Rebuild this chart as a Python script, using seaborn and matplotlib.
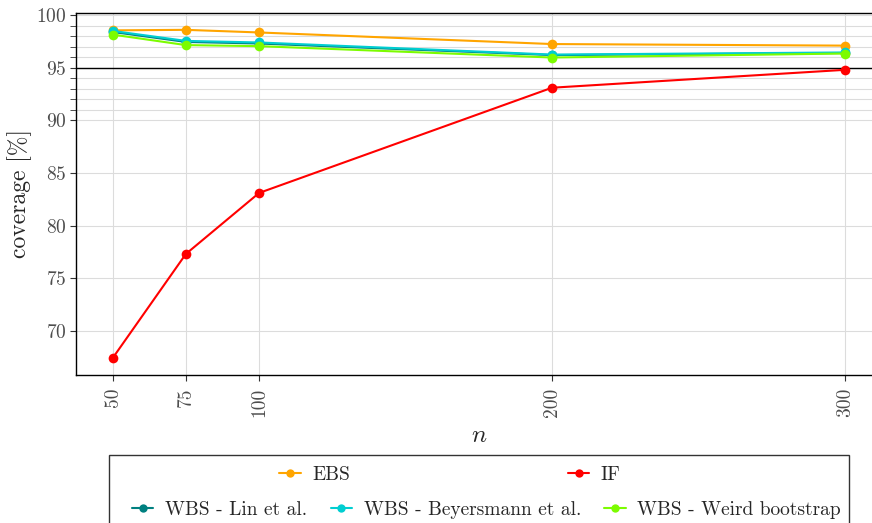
import matplotlib
matplotlib.use("Agg")
import matplotlib.pyplot as plt
import matplotlib.patches as patches
from matplotlib.lines import Line2D
import seaborn as sns
import pandas as pd

# sample sizes and coverage (%) per method
n_values = [50, 75, 100, 200, 300]
ebs = [98.55, 98.6, 98.35, 97.25, 97.1]
inf_fn = [67.4, 77.3, 83.1, 93.1, 94.8]
wbs_lin = [98.4, 97.45, 97.3, 96.2, 96.4]
wbs_beyersmann = [98.5, 97.55, 97.4, 96.25, 96.45]
wbs_weird = [98.15, 97.15, 97.05, 95.97, 96.35]

methods = ["EBS", "IF", "WBS - Lin et al.", "WBS - Beyersmann et al.", "WBS - Weird bootstrap"]
colors = ["#FFA500", "#FF0000", "#008080", "#00CED1", "#7CFC00"]
y_major = [70, 75, 80, 85, 90, 95, 100]
y_minor = [91, 92, 93, 94, 96, 97, 98, 99]


def make_frame():
    rows = []
    for name, vals in zip(methods, [ebs, inf_fn, wbs_lin, wbs_beyersmann, wbs_weird]):
        for n, v in zip(n_values, vals):
            rows.append({"n": n, "coverage": v, "method": name})
    return pd.DataFrame(rows)


def main():
    sns.set_style("white")
    plt.rcParams["font.family"] = "serif"
    plt.rcParams["font.serif"] = ["cmr10", "DejaVu Serif"]
    plt.rcParams["mathtext.fontset"] = "cm"
    plt.rcParams["axes.formatter.use_mathtext"] = True

    df = make_frame()
    fig = plt.figure(figsize=(8.72, 5.23), dpi=100)
    ax = fig.add_axes([76 / 872, 1 - 375 / 523, (881.6 - 76) / 872, (375 - 13) / 523])

    sns.lineplot(data=df, x="n", y="coverage", hue="method", hue_order=methods,
                 palette=colors, marker="o", markersize=7, markeredgewidth=0,
                 linewidth=1.5, legend=False, ax=ax, zorder=3)

    ax.axhline(95, color="black", lw=1, zorder=2)

    ax.set_xlim(37.5, 312.5)
    ax.set_ylim(65.8, 100.2)
    ax.set_xticks(n_values)
    ax.set_xticklabels([str(v) for v in n_values], rotation=90)
    ax.set_yticks(y_major)
    ax.set_yticks(y_minor, minor=True)
    ax.grid(True, which="both", color="#DCDCDC", lw=0.8, zorder=0)
    ax.set_axisbelow(True)

    ax.tick_params(axis="both", which="both", bottom=True, left=True)
    ax.tick_params(axis="both", which="major", labelsize=14, labelcolor="#4D4D4D",
                   length=4, width=0.8, color="#333333", pad=3)
    ax.tick_params(axis="y", which="minor", length=4, width=0.6, color="#333333")
    ax.tick_params(axis="x", pad=5)
    for s in ax.spines.values():
        s.set_color("black")
        s.set_linewidth(1)

    ax.set_xlabel("$n$", fontsize=18, labelpad=6)
    ax.set_ylabel("coverage [%]", fontsize=17, labelpad=3)

    handles = [Line2D([0], [0], color=c, marker="o", markersize=6, markeredgewidth=0, lw=1.5)
               for c in colors]
    fig.legend(handles[:2], methods[:2], ncol=2, loc="center",
               bbox_to_anchor=(0.516, 1 - 475 / 523), frameon=False, fontsize=14,
               handlelength=1.1, handletextpad=0.6, columnspacing=11.2)
    fig.legend(handles[2:], methods[2:], ncol=3, loc="center",
               bbox_to_anchor=(0.558, 1 - 510 / 523), frameon=False, fontsize=14,
               handlelength=1.1, handletextpad=0.6, columnspacing=1.2)

    frame = patches.Rectangle((109 / 872, -0.05), (849 - 109) / 872, 0.05 + (523 - 455) / 523,
                              transform=fig.transFigure, fill=False, edgecolor="#333333", lw=1)
    fig.add_artist(frame)

    fig.savefig("out.png", dpi=100)


if __name__ == "__main__":
    main()
